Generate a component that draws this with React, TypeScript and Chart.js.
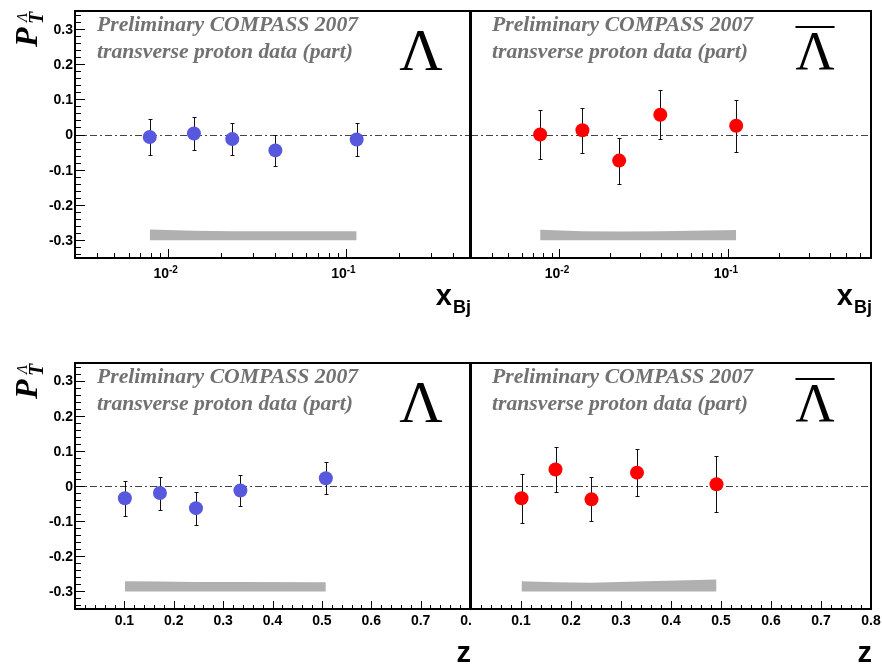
import React, { useEffect, useRef } from "react";
import { Chart, registerables } from "chart.js";

Chart.register(...registerables);

// ---------------- data ----------------
const xbjLambdaX = [0.0079, 0.014, 0.023, 0.0402, 0.1152];
const xbjLambdaY = [-0.007, 0.003, -0.013, -0.045, -0.014];
const xbjLambdaErr = [0.05, 0.046, 0.045, 0.045, 0.046];
const xbjLambdaSys = [0.031, 0.027, 0.026, 0.026, 0.026];

const xbjAntiX = [0.0077, 0.0137, 0.0226, 0.0396, 0.1114];
const xbjAntiY = [0.0, 0.012, -0.074, 0.056, 0.025];
const xbjAntiErr = [0.069, 0.064, 0.065, 0.069, 0.074];
const xbjAntiSys = [0.03, 0.026, 0.025, 0.026, 0.029];

const zLambdaX = [0.101, 0.172, 0.245, 0.335, 0.508];
const zLambdaY = [-0.035, -0.02, -0.063, -0.013, 0.022];
const zLambdaErr = [0.049, 0.047, 0.047, 0.045, 0.046];
const zLambdaSys = [0.029, 0.028, 0.027, 0.027, 0.026];

const zAntiX = [0.101, 0.169, 0.241, 0.332, 0.491];
const zAntiY = [-0.035, 0.047, -0.038, 0.038, 0.005];
const zAntiErr = [0.07, 0.065, 0.063, 0.067, 0.08];
const zAntiSys = [0.029, 0.026, 0.025, 0.028, 0.034];

const sysBaseline = -0.3;
const yTickValues = [-0.3, -0.2, -0.1, 0, 0.1, 0.2, 0.3];
const yTickLabels = ["-0.3", "-0.2", "-0.1", "0", "0.1", "0.2", "0.3"];
const xbjTickValues = [0.01, 0.1];
const xbjTickExponents = ["-2", "-1"];
const zTickValues = [0.1, 0.2, 0.3, 0.4, 0.5, 0.6, 0.7, 0.8];
const zTickLabels = ["0.1", "0.2", "0.3", "0.4", "0.5", "0.6", "0.7", "0.8"];
const textLine1 = "Preliminary COMPASS 2007";
const textLine2 = "transverse proton data (part)";

// ---------------- styling ----------------
const BLUE = "#5858de";
const RED = "#ff0000";
const BAND = "#b0b0b0";
const GRAY_TEXT = "#727272";
const SANS = "'Liberation Sans', Arial, sans-serif";
const SERIF = "'Liberation Serif', 'Times New Roman', serif";

type PanelCfg = {
  key: string;
  left: number;
  top: number;
  w: number;
  h: number;
  pad: { left: number; top: number; right: number; bottom: number };
  xs: number[];
  ys: number[];
  errs: number[];
  sys: number[];
  color: string;
  axis: "xbj" | "z";
  xMin: number;
  xMax: number;
  yLabels: boolean;
  anti: boolean;
  lambdaSize: number;
  lambdaDx: number;
};

const panels: PanelCfg[] = [
  {
    key: "tl", left: 0, top: 0, w: 471, h: 330,
    pad: { left: 75, top: 11, right: 1, bottom: 72 },
    xs: xbjLambdaX, ys: xbjLambdaY, errs: xbjLambdaErr, sys: xbjLambdaSys,
    color: BLUE, axis: "xbj", xMin: 0.003, xMax: 0.5, yLabels: true, anti: false,
    lambdaSize: 60, lambdaDx: 49,
  },
  {
    key: "tr", left: 469, top: 0, w: 413, h: 330,
    pad: { left: 2, top: 11, right: 11, bottom: 72 },
    xs: xbjAntiX, ys: xbjAntiY, errs: xbjAntiErr, sys: xbjAntiSys,
    color: RED, axis: "xbj", xMin: 0.003, xMax: 0.7, yLabels: false, anti: true,
    lambdaSize: 54, lambdaDx: 56,
  },
  {
    key: "bl", left: 0, top: 340, w: 471, h: 326,
    pad: { left: 75, top: 23, right: 1, bottom: 57 },
    xs: zLambdaX, ys: zLambdaY, errs: zLambdaErr, sys: zLambdaSys,
    color: BLUE, axis: "z", xMin: 0, xMax: 0.8, yLabels: true, anti: false,
    lambdaSize: 60, lambdaDx: 49,
  },
  {
    key: "br", left: 469, top: 340, w: 413, h: 326,
    pad: { left: 2, top: 23, right: 11, bottom: 57 },
    xs: zAntiX, ys: zAntiY, errs: zAntiErr, sys: zAntiSys,
    color: RED, axis: "z", xMin: 0, xMax: 0.8, yLabels: false, anti: true,
    lambdaSize: 54, lambdaDx: 56,
  },
];

function makePlugin(p: PanelCfg) {
  return {
    id: "panel-" + p.key,
    beforeDatasetsDraw(chart: any) {
      const { ctx, chartArea: a, scales } = chart;
      const x = scales.x;
      const y = scales.y;
      ctx.save();
      // zero line (dash-dot)
      const y0 = Math.round(y.getPixelForValue(0)) + 0.5;
      ctx.strokeStyle = "#444";
      ctx.lineWidth = 1;
      ctx.setLineDash([7, 3, 2, 3]);
      ctx.beginPath();
      ctx.moveTo(a.left, y0);
      ctx.lineTo(a.right, y0);
      ctx.stroke();
      ctx.setLineDash([]);
      // error bars
      ctx.strokeStyle = "#111";
      ctx.lineWidth = 1;
      for (let i = 0; i < p.xs.length; i++) {
        const px = Math.round(x.getPixelForValue(p.xs[i])) + 0.5;
        const pt = Math.round(y.getPixelForValue(p.ys[i] + p.errs[i])) + 0.5;
        const pb = Math.round(y.getPixelForValue(p.ys[i] - p.errs[i])) + 0.5;
        ctx.beginPath();
        ctx.moveTo(px, pt);
        ctx.lineTo(px, pb);
        ctx.moveTo(px - 2, pt);
        ctx.lineTo(px + 2, pt);
        ctx.moveTo(px - 2, pb);
        ctx.lineTo(px + 2, pb);
        ctx.stroke();
      }
      ctx.restore();
    },
    afterDraw(chart: any) {
      const { ctx, chartArea: a, scales } = chart;
      const x = scales.x;
      const y = scales.y;
      ctx.save();
      // frame
      ctx.strokeStyle = "#000";
      ctx.lineWidth = 2;
      ctx.strokeRect(a.left, a.top, a.right - a.left, a.bottom - a.top);

      ctx.lineWidth = 1;
      // y ticks
      if (p.yLabels) {
        ctx.beginPath();
        for (let k = -17; k <= 17; k++) {
          const v = k * 0.02;
          const py = Math.round(y.getPixelForValue(v)) + 0.5;
          const len = k % 5 === 0 ? 10 : 6;
          ctx.moveTo(a.left, py);
          ctx.lineTo(a.left + len, py);
        }
        ctx.stroke();
        ctx.fillStyle = "#000";
        ctx.font = `bold 14px ${SANS}`;
        ctx.textAlign = "right";
        ctx.textBaseline = "middle";
        yTickValues.forEach((v, i) => {
          ctx.fillText(yTickLabels[i], a.left - 2, y.getPixelForValue(v) + 1);
        });
      }
      // x ticks
      ctx.beginPath();
      if (p.axis === "xbj") {
        for (let e = -3; e <= 0; e++) {
          for (let m = 1; m <= 9; m++) {
            const v = m * Math.pow(10, e);
            if (v < p.xMin * 0.999 || v > p.xMax * 1.001) continue;
            const px = Math.round(x.getPixelForValue(v)) + 0.5;
            const len = m === 1 ? 9 : 5;
            ctx.moveTo(px, a.bottom);
            ctx.lineTo(px, a.bottom - len);
          }
        }
      } else {
        for (let k = 1; k < 40; k++) {
          const v = k * 0.02;
          const px = Math.round(x.getPixelForValue(v)) + 0.5;
          const len = k % 5 === 0 ? 8 : 4;
          ctx.moveTo(px, a.bottom);
          ctx.lineTo(px, a.bottom - len);
        }
      }
      ctx.stroke();
      // x labels
      ctx.fillStyle = "#000";
      ctx.textBaseline = "alphabetic";
      if (p.axis === "xbj") {
        xbjTickValues.forEach((v, i) => {
          const px = x.getPixelForValue(v);
          ctx.font = `bold 14px ${SANS}`;
          ctx.textAlign = "right";
          ctx.fillText("10", px + 1, a.bottom + 20);
          ctx.font = `bold 10px ${SANS}`;
          ctx.textAlign = "left";
          ctx.fillText(xbjTickExponents[i], px + 1, a.bottom + 15);
        });
        // title x_Bj
        ctx.textAlign = "right";
        ctx.font = `bold 18px ${SANS}`;
        const wBj = ctx.measureText("Bj").width;
        ctx.fillText("Bj", a.right + 1, a.bottom + 55);
        ctx.font = `bold 29px ${SANS}`;
        ctx.fillText("x", a.right + 1 - wBj - 1, a.bottom + 47);
      } else {
        ctx.font = `bold 14px ${SANS}`;
        ctx.textAlign = "center";
        zTickValues.forEach((v, i) => {
          ctx.fillText(zTickLabels[i], x.getPixelForValue(v), a.bottom + 16);
        });
        ctx.textAlign = "right";
        ctx.font = `bold 29px ${SANS}`;
        ctx.fillText("z", a.right + 1, a.bottom + 53);
      }
      // y title P_T^Lambda
      if (p.yLabels) {
        ctx.save();
        ctx.translate(37, a.top + 36);
        ctx.rotate(-Math.PI / 2);
        ctx.textAlign = "left";
        ctx.textBaseline = "alphabetic";
        ctx.font = `bold italic 32px ${SERIF}`;
        ctx.fillText("P", 0, 0);
        ctx.font = `bold italic 20px ${SERIF}`;
        ctx.fillText("T", 23, 6);
        ctx.font = `italic 15px ${SERIF}`;
        ctx.fillText("Λ", 25, -10);
        ctx.restore();
      }
      // preliminary text
      ctx.fillStyle = GRAY_TEXT;
      ctx.font = `bold italic 21.7px ${SERIF}`;
      ctx.textAlign = "left";
      ctx.textBaseline = "alphabetic";
      const tx = a.left + (p.yLabels ? 22 : 21);
      ctx.fillText(textLine1, tx, a.top + 20);
      ctx.fillText(textLine2, tx, a.top + 47);
      // Lambda symbol
      ctx.fillStyle = "#000";
      ctx.font = `${p.lambdaSize}px ${SERIF}`;
      ctx.textAlign = "center";
      const cx = a.right - p.lambdaDx;
      const base = a.top + (p.anti ? 58 : 59);
      ctx.fillText("Λ", cx, base);
      if (p.anti) {
        const wL = ctx.measureText("Λ").width;
        ctx.strokeStyle = "#000";
        ctx.lineWidth = 2;
        ctx.beginPath();
        ctx.moveTo(cx - wL / 2, a.top + 16);
        ctx.lineTo(cx + wL / 2, a.top + 16);
        ctx.stroke();
      }
      ctx.restore();
    },
  };
}

function Panel({ p }: { p: PanelCfg }) {
  const ref = useRef<HTMLCanvasElement>(null);
  useEffect(() => {
    if (!ref.current) return;
    const chart = new Chart(ref.current, {
      type: "scatter",
      data: {
        datasets: [
          {
            type: "line",
            data: p.xs.map((xv) => ({ x: xv, y: sysBaseline })),
            borderColor: "rgba(0,0,0,0)",
            borderWidth: 1,
            pointRadius: 0,
            fill: false,
            tension: 0,
          } as any,
          {
            type: "line",
            data: p.xs.map((xv, i) => ({ x: xv, y: sysBaseline + p.sys[i] })),
            borderColor: "rgba(0,0,0,0)",
            borderWidth: 1,
            pointRadius: 0,
            fill: "-1",
            backgroundColor: BAND,
            tension: 0,
          } as any,
          {
            type: "scatter",
            data: p.xs.map((xv, i) => ({ x: xv, y: p.ys[i] })),
            pointRadius: 7,
            pointBackgroundColor: p.color,
            backgroundColor: p.color,
            borderWidth: 0,
            pointBorderWidth: 0,
          } as any,
        ],
      },
      options: {
        responsive: false,
        animation: false,
        devicePixelRatio: 1,
        layout: { padding: p.pad, autoPadding: false },
        scales: {
          x: {
            type: p.axis === "xbj" ? "logarithmic" : "linear",
            min: p.xMin,
            max: p.xMax,
            display: false,
          },
          y: { type: "linear", min: -0.35, max: 0.35, display: false },
        },
        plugins: {
          legend: { display: false },
          tooltip: { enabled: false },
        },
      } as any,
      plugins: [makePlugin(p)],
    });
    return () => chart.destroy();
  }, []);
  return (
    <canvas
      ref={ref}
      width={p.w}
      height={p.h}
      style={{ position: "absolute", left: p.left, top: p.top, width: p.w, height: p.h }}
    />
  );
}

export default function App() {
  return (
    <div
      style={{
        position: "fixed",
        left: 0,
        top: 0,
        width: 882,
        height: 666,
        background: "#fff",
        overflow: "hidden",
      }}
    >
      {panels.map((p) => (
        <Panel key={p.key} p={p} />
      ))}
    </div>
  );
}
